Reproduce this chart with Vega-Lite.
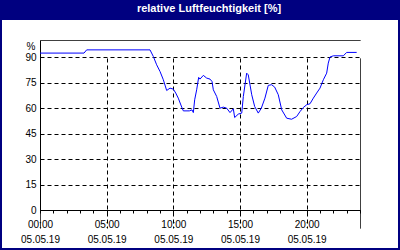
{
  "$schema": "https://vega.github.io/schema/vega-lite/v6.json",
  "width": 396,
  "height": 228,
  "autosize": {"type": "none"},
  "padding": {"left": 2, "top": 20, "right": 2, "bottom": 2},
  "background": "#000080",
  "title": {
    "text": "relative Luftfeuchtigkeit [%]",
    "color": "white",
    "font": "Liberation Sans",
    "fontSize": 11,
    "fontWeight": "bold",
    "anchor": "middle",
    "frame": "group",
    "offset": 7,
    "baseline": "alphabetic",
    "dx": 9,
    "dy": 10
  },
  "config": {
    "view": {"fill": "white", "stroke": null},
    "axis": {
      "labelFont": "Liberation Sans",
      "labelFontSize": 10,
      "labelColor": "black",
      "titleFont": "Liberation Sans",
      "titleFontSize": 10,
      "titleFontWeight": "normal",
      "titleColor": "black",
      "domainColor": "black",
      "tickColor": "black",
      "gridColor": "black",
      "gridWidth": 1
    }
  },
  "data": {
    "values": [
      {"h": 0, "rh": 92.3},
      {"h": 3.3, "rh": 92.3},
      {"h": 3.5, "rh": 94.2},
      {"h": 8.25, "rh": 94.2},
      {"h": 8.5, "rh": 90.3},
      {"h": 8.75, "rh": 85.4},
      {"h": 9, "rh": 81.5},
      {"h": 9.25, "rh": 76.6},
      {"h": 9.5, "rh": 70.3},
      {"h": 9.75, "rh": 71.7},
      {"h": 10, "rh": 71.1},
      {"h": 10.18, "rh": 68.8},
      {"h": 10.37, "rh": 65.8},
      {"h": 10.63, "rh": 60.5},
      {"h": 10.75, "rh": 58.3},
      {"h": 11.2, "rh": 58.3},
      {"h": 11.4, "rh": 58.9},
      {"h": 11.5, "rh": 57.3},
      {"h": 11.6, "rh": 64.8},
      {"h": 11.75, "rh": 70.7},
      {"h": 11.9, "rh": 78},
      {"h": 12, "rh": 77},
      {"h": 12.25, "rh": 79.2},
      {"h": 12.5, "rh": 77.6},
      {"h": 12.75, "rh": 77},
      {"h": 12.9, "rh": 75.6},
      {"h": 13, "rh": 70.7},
      {"h": 13.25, "rh": 66.8},
      {"h": 13.5, "rh": 59.9},
      {"h": 13.75, "rh": 60.5},
      {"h": 14, "rh": 59.9},
      {"h": 14.25, "rh": 57.3},
      {"h": 14.5, "rh": 59.5},
      {"h": 14.6, "rh": 54.4},
      {"h": 14.87, "rh": 56.4},
      {"h": 15.13, "rh": 57},
      {"h": 15.25, "rh": 66.8},
      {"h": 15.5, "rh": 80.5},
      {"h": 15.62, "rh": 79.5},
      {"h": 15.88, "rh": 67.8},
      {"h": 16.1, "rh": 60.9},
      {"h": 16.37, "rh": 57},
      {"h": 16.6, "rh": 59.9},
      {"h": 16.87, "rh": 65.8},
      {"h": 17.12, "rh": 73.3},
      {"h": 17.37, "rh": 73.7},
      {"h": 17.6, "rh": 72.3},
      {"h": 17.87, "rh": 67.8},
      {"h": 18.13, "rh": 58.9},
      {"h": 18.5, "rh": 54},
      {"h": 18.87, "rh": 53.4},
      {"h": 19.25, "rh": 55},
      {"h": 19.5, "rh": 57.9},
      {"h": 19.75, "rh": 60.3},
      {"h": 20, "rh": 61.9},
      {"h": 20.25, "rh": 62.5},
      {"h": 20.5, "rh": 65.8},
      {"h": 20.75, "rh": 68.8},
      {"h": 21, "rh": 71.7},
      {"h": 21.25, "rh": 76.6},
      {"h": 21.5, "rh": 80.5},
      {"h": 21.62, "rh": 86.4},
      {"h": 21.75, "rh": 90},
      {"h": 22, "rh": 90.7},
      {"h": 22.75, "rh": 90.7},
      {"h": 23, "rh": 92.7},
      {"h": 23.75, "rh": 92.7}
    ]
  },
  "mark": {"type": "line", "color": "#0000FF", "strokeWidth": 1, "interpolate": "linear"},
  "encoding": {
    "x": {
      "field": "h",
      "type": "quantitative",
      "scale": {"domain": [0, 24], "range": [38, 358], "nice": false, "zero": false},
      "axis": {
        "title": null,
        "offset": -38,
        "values": [0,1,2,3,4,5,6,7,8,9,10,11,12,13,14,15,16,17,18,19,20,21,22,23,24],
        "tickSize": 3,
        "labelBaseline": "top",
        "labelPadding": 6,
        "labelLineHeight": 15,
        "labelFlush": false,
        "labelOverlap": false,
        "labelExpr": "(datum.value % 5 == 0 && datum.value < 24) ? [(datum.value < 10 ? '0' : '') + datum.value + ':00', '05.05.19'] : ''",
        "grid": true,
        "gridOpacity": {"condition": {"test": "datum.value % 5 == 0 || datum.value == 24", "value": 1}, "value": 0},
        "gridDash": {"condition": {"test": "datum.value == 0 || datum.value == 24", "value": [1, 0]}, "value": [4, 3]}
      }
    },
    "y": {
      "field": "rh",
      "type": "quantitative",
      "scale": {"domain": [0, 100], "range": [190, 20], "nice": false, "zero": true},
      "axis": {
        "title": "%",
        "titleAngle": 0,
        "titleAlign": "right",
        "titleBaseline": "alphabetic",
        "titleX": -5,
        "titleY": 29,
        "offset": -38,
        "values": [0, 15, 30, 45, 60, 75, 90, 100],
        "ticks": false,
        "labelPadding": 4,
        "labelBaseline": "middle",
        "labelExpr": "datum.value == 100 ? '' : datum.label",
        "grid": true,
        "gridDash": {"condition": {"test": "datum.value == 0 || datum.value == 100", "value": [1, 0]}, "value": [4, 3]}
      }
    }
  }
}
